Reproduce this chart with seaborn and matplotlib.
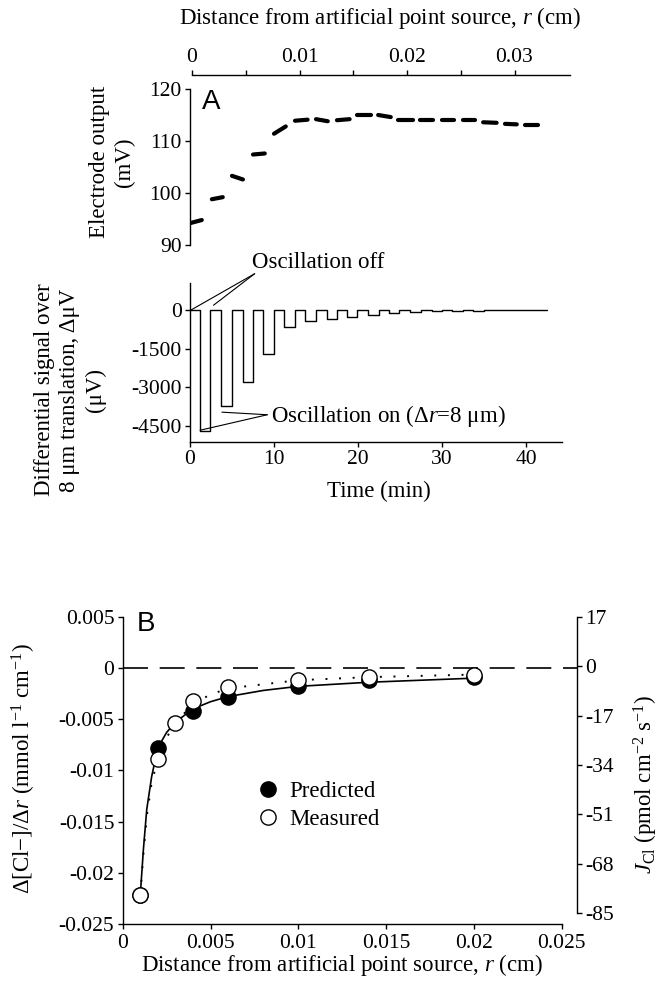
import matplotlib
matplotlib.use('Agg')
import matplotlib.pyplot as plt
import pandas as pd
import seaborn as sns
from matplotlib.lines import Line2D

# Panel A, electrode output, one short trace per "oscillation off" period
elec_t0 = [0.0, 2.6, 5.0, 7.5, 10.0, 12.5, 15.0, 17.5, 19.9, 22.4, 24.8, 27.4, 30.0, 32.5, 34.9, 37.5, 39.9]
elec_t1 = [1.4, 3.9, 6.3, 8.9, 11.4, 14.0, 16.4, 19.0, 21.5, 23.9, 26.5, 28.9, 31.4, 33.9, 36.5, 38.9, 41.4]
elec_mv0 = [94.2, 98.8, 103.3, 107.4, 111.4, 113.9, 114.2, 114.0, 115.0, 115.0, 114.0, 114.1, 114.1, 114.0, 113.6, 113.3, 113.0]
elec_mv1 = [94.8, 99.2, 102.6, 107.6, 112.8, 114.1, 113.8, 114.2, 115.0, 114.6, 114.0, 114.1, 114.1, 114.0, 113.5, 113.2, 113.0]

# Panel A, differential signal (value holds until the next time)
diff_t = [0, 1.2, 2.4, 3.65, 4.95, 6.25, 7.45, 8.7, 10.0, 11.2, 12.5, 13.7, 15.0, 16.25, 17.45,
          18.7, 19.9, 21.2, 22.45, 23.7, 24.9, 26.2, 27.45, 28.75, 29.95, 31.2, 32.45, 33.7,
          34.95, 36.2, 37.45, 38.7, 39.95, 41.2, 42.5]
diff_uv = [0, -4700, 0, -3730, 0, -2810, 0, -1690, 0, -680, 0, -450, 0, -360, 0, -260, 0, -200,
           0, -130, 0, -90, 0, -60, 0, -40, 0, -25, 0, -15, 0, -10, 0, -5, 0]

dist_ticks = [0, 0.01, 0.02, 0.03]
dist_labels = ['0', '0.01', '0.02', '0.03']
dist_minor = [0.005, 0.015, 0.025]
time_ticks = [0, 10, 20, 30, 40]
mv_ticks = [90, 100, 110, 120]
uv_ticks = [0, -1500, -3000, -4500]

# Panel B
r_pred = [0.001, 0.002, 0.004, 0.006, 0.01, 0.014, 0.02]
grad_pred = [-0.0222, -0.0078, -0.0042, -0.00285, -0.0018, -0.0012, -0.0009]
r_meas = [0.001, 0.002, 0.003, 0.004, 0.006, 0.01, 0.014, 0.02]
grad_meas = [-0.0222, -0.0089, -0.0054, -0.0032, -0.0019, -0.00114, -0.0009, -0.00068]

r_fit = [0.001, 0.00118, 0.00137, 0.00165, 0.002, 0.0025, 0.003, 0.004, 0.005, 0.006, 0.008, 0.01, 0.014, 0.02]
grad_fit_pred = [-0.0222, -0.0177, -0.0138, -0.0106, -0.0078, -0.0063, -0.0053, -0.0040, -0.0033,
                 -0.0028, -0.0022, -0.0018, -0.0014, -0.0010]
grad_fit_meas = [-0.0222, -0.0182, -0.0145, -0.0112, -0.0089, -0.0068, -0.0054, -0.0035, -0.0026,
                 -0.0020, -0.0016, -0.0012, -0.0009, -0.00065]

b_xticks = [0, 0.005, 0.01, 0.015, 0.02, 0.025]
b_xlabels = ['0', '0.005', '0.01', '0.015', '0.02', '0.025']
b_yticks = [0.005, 0, -0.005, -0.01, -0.015, -0.02, -0.025]
b_ylabels = ['0.005', '0', '-0.005', '-0.01', '-0.015', '-0.02', '-0.025']
flux_ticks = [17, 0, -17, -34, -51, -68, -85]

sns.set_style('ticks', rc={'axes.edgecolor': 'black', 'xtick.color': 'black', 'ytick.color': 'black',
                           'text.color': 'black', 'axes.labelcolor': 'black'})
plt.rcParams['font.family'] = ['Liberation Serif', 'DejaVu Serif']
plt.rcParams['mathtext.fontset'] = 'custom'
plt.rcParams['mathtext.rm'] = 'Liberation Serif'
plt.rcParams['mathtext.it'] = 'Liberation Serif:italic'
plt.rcParams['axes.unicode_minus'] = False
plt.rcParams['axes.linewidth'] = 1.0

TICK = 15.5
LAB = 16.5
W, H = 662, 989
fig = plt.figure(figsize=(W / 100, H / 100), dpi=100)


def px_axes(l, t, r, b):
    return fig.add_axes([l / W, 1 - b / H, (r - l) / W, (b - t) / H])


def ftext(x, y, s, **kw):
    fig.text(x / W, 1 - y / H, s, **kw)


def style_ticks(ax, axis='both'):
    ax.tick_params(axis=axis, which='both', direction='out', length=3.5, width=1,
                   labelsize=TICK, pad=2.5)


# ---- electrode output
axE = px_axes(190, 89, 570, 245)
segs = []
for i in range(len(elec_t0)):
    segs.append({'seg': i, 't': elec_t0[i], 'mV': elec_mv0[i]})
    segs.append({'seg': i, 't': elec_t1[i], 'mV': elec_mv1[i]})
df_e = pd.DataFrame(segs)
sns.lineplot(data=df_e, x='t', y='mV', units='seg', estimator=None, sort=False,
             color='black', lw=3.0, solid_capstyle='round', ax=axE)
axE.set_xlim(0, 380 / 8.4)
axE.set_ylim(90, 120)
axE.set_xlabel('')
axE.set_ylabel('')
axE.set_xticks([])
axE.set_yticks(mv_ticks)
for s in ['top', 'right', 'bottom']:
    axE.spines[s].set_visible(False)
style_ticks(axE, 'y')

axT = axE.twiny()
axT.set_xlim((190 - 192) / 10750, (570 - 192) / 10750)
for s in ['left', 'right', 'bottom']:
    axT.spines[s].set_visible(False)
axT.spines['top'].set_position(('outward', 10))
axT.spines['top'].set_bounds(0, 0.0352)
axT.set_xticks(dist_ticks, dist_labels)
axT.set_xticks(dist_minor, minor=True)
style_ticks(axT, 'x')

# ---- differential signal
axD = px_axes(190, 283, 562, 442)
sns.lineplot(x=diff_t, y=diff_uv, estimator=None, sort=False, drawstyle='steps-post',
             color='black', lw=1.0, ax=axD)
axD.set_xlim(0, 372 / 8.4)
axD.set_ylim(-5115, 1040)
axD.set_xticks(time_ticks)
axD.set_yticks(uv_ticks)
for s in ['top', 'right']:
    axD.spines[s].set_visible(False)
style_ticks(axD)

axD.plot([0.15, 7.7], [0, 1400], color='black', lw=0.8, clip_on=False)
axD.plot([2.8, 7.7], [180, 1400], color='black', lw=0.8, clip_on=False)
axD.text(7.4, 1840, 'Oscillation off', ha='left', va='center', fontsize=LAB)
axD.plot([1.2, 9.2], [-4660, -4060], color='black', lw=0.8, clip_on=False)
axD.plot([3.8, 9.2], [-3960, -4060], color='black', lw=0.8, clip_on=False)
axD.text(9.7, -4120, 'Oscillation on (Δ$r$=8 μm)', ha='left', va='center', fontsize=LAB)

# ---- panel B
axB = px_axes(122.7, 616.7, 561.7, 924)
axB.plot([0, 1.034], [0, 0], transform=axB.get_yaxis_transform(), clip_on=False,
         color='black', lw=1.2, ls=(0, (15, 7)))
sns.lineplot(x=r_fit, y=grad_fit_pred, estimator=None, sort=False, color='black', lw=1.2, ax=axB)
sns.lineplot(x=r_fit, y=grad_fit_meas, estimator=None, sort=False, color='black', lw=1.4,
             ls=(0, (1, 6)), ax=axB)
sns.scatterplot(x=r_pred, y=grad_pred, color='black', edgecolor='black', s=120, linewidth=1,
                zorder=3, ax=axB)
sns.scatterplot(x=r_meas, y=grad_meas, color='white', edgecolor='black', s=120, linewidth=1,
                zorder=4, ax=axB)
axB.set_xlim(0, 0.025)
axB.set_ylim(-0.025, 0.005)
axB.set_xticks(b_xticks, b_xlabels)
axB.set_yticks(b_yticks, b_ylabels)
for s in ['top', 'right']:
    axB.spines[s].set_visible(False)
style_ticks(axB)
axB.tick_params(axis='x', pad=4)

handles = [Line2D([], [], ls='', marker='o', ms=11, mfc='black', mec='black', mew=1),
           Line2D([], [], ls='', marker='o', ms=11, mfc='white', mec='black', mew=1)]
axB.legend(handles, ['Predicted', 'Measured'], loc='center left', bbox_to_anchor=(0.304, 0.387),
           frameon=False, fontsize=LAB, handlelength=1.0, handletextpad=0.43,
           labelspacing=0.3, borderpad=0, borderaxespad=0)

axR = axB.twinx()
axR.set_ylim(-88.7, 17)
for s in ['top', 'left', 'bottom']:
    axR.spines[s].set_visible(False)
axR.spines['right'].set_position(('outward', 10.8))
axR.spines['right'].set_bounds(-85, 17)
axR.set_yticks(flux_ticks, [str(v) for v in flux_ticks])
style_ticks(axR, 'y')

# ---- text
ftext(380, 18, 'Distance from artificial point source, $r$ (cm)', ha='center', va='center', fontsize=LAB)
ftext(112, 162, 'Electrode output\n(mV)', rotation=90, ha='center', va='center',
      fontsize=LAB, linespacing=1.25)
ftext(70, 390, 'Differential signal over\n8 μm translation, ΔμV\n(μV)', rotation=90,
      ha='center', va='center', fontsize=LAB, linespacing=1.25)
ftext(379, 491, 'Time (min)', ha='center', va='center', fontsize=LAB)
ftext(342, 965, 'Distance from artificial point source, $r$ (cm)', ha='center', va='center', fontsize=LAB)
ftext(24, 768, 'Δ[Cl−]/Δ$r$ (mmol l$^{-1}$ cm$^{-1}$)', rotation=90, ha='center', va='center',
      fontsize=LAB)
ftext(646, 785, '$J_{\\mathrm{Cl}}$ (pmol cm$^{-2}$ s$^{-1}$)', rotation=90, ha='center', va='center',
      fontsize=LAB)
ftext(202, 89, 'A', ha='left', va='top', fontsize=20, family='Liberation Sans')
ftext(137, 611, 'B', ha='left', va='top', fontsize=20, family='Liberation Sans')

fig.savefig('out.png', dpi=100)
